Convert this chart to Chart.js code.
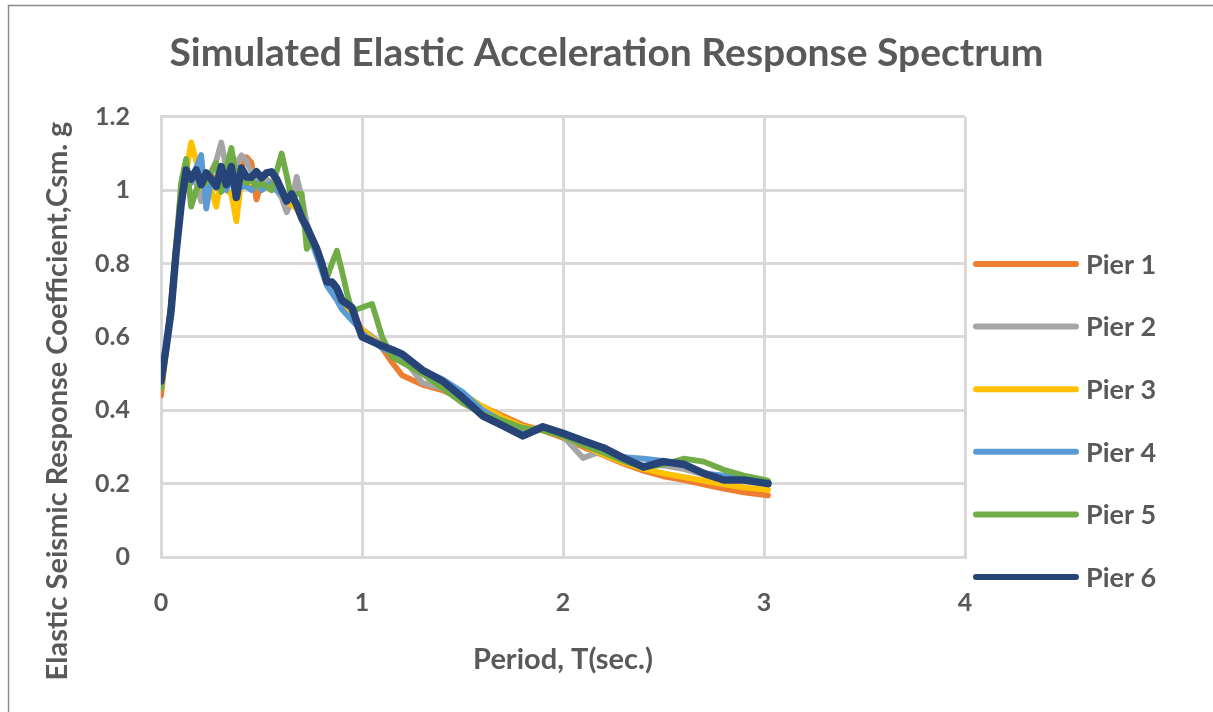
<!DOCTYPE html>
<html><head><meta charset="utf-8">
<script src="https://cdn.jsdelivr.net/npm/chart.js@4"></script>
<style>html,body{margin:0;padding:0;background:#fff;}canvas{display:block}</style>
</head><body>
<canvas id="c" width="1213" height="712"></canvas>
<script>
const periods = [0,0.025,0.05,0.075,0.1,0.125,0.15,0.175,0.2,
0.225,0.25,0.275,0.3,0.325,0.35,0.375,0.4,
0.425,0.45,0.475,0.5,0.525,0.55,0.575,0.6,
0.625,0.65,0.675,0.7,0.725,0.75,0.775,0.8,
0.825,0.85,0.875,0.9,0.925,0.95,0.975,1.0,
1.05,1.1,1.15,1.2,
1.3,1.4,1.5,1.6,1.7,1.8,1.9,2.0,
2.1,2.2,2.3,2.4,2.5,2.6,2.7,2.8,2.9,3.02];

const pier1 = [0.44,0.56,0.68,0.84,0.99,1.03,1.02,1.04,1.03,
1.02,1.04,1.03,1.01,1.04,1.06,1.04,1.06,
1.09,1.075,0.975,1.02,1.01,1.02,1.0,0.99,
0.97,0.97,0.95,0.93,0.90,0.87,0.83,0.79,
0.75,0.73,0.71,0.69,0.67,0.655,0.64,0.62,
0.60,0.57,0.53,0.495,
0.47,0.455,0.43,0.41,0.385,0.36,0.345,0.325,
0.30,0.278,0.255,0.235,0.22,0.21,0.198,0.186,0.176,0.168];

const pier2 = [0.47,0.57,0.68,0.84,0.99,1.05,1.04,1.02,0.97,
1.02,1.05,1.08,1.13,1.06,1.10,1.07,1.095,
1.08,1.05,1.03,1.02,1.03,1.02,1.0,0.98,
0.94,0.97,1.036,0.98,0.91,0.87,0.84,0.80,
0.76,0.74,0.72,0.70,0.68,0.66,0.64,0.62,
0.60,0.58,0.56,0.545,
0.475,0.46,0.44,0.40,0.37,0.33,0.35,0.33,
0.27,0.29,0.265,0.25,0.25,0.24,0.225,0.215,0.21,0.20];

const pier3 = [0.46,0.57,0.69,0.85,1.0,1.05,1.13,1.08,1.02,
0.98,1.0,0.955,1.03,1.0,0.99,0.915,1.03,
1.02,1.01,1.02,1.0,1.01,1.0,1.01,0.99,
0.97,0.96,0.95,0.92,0.89,0.865,0.83,0.79,
0.75,0.73,0.71,0.69,0.67,0.655,0.64,0.62,
0.595,0.575,0.555,0.54,
0.505,0.475,0.445,0.41,0.38,0.355,0.345,0.33,
0.305,0.28,0.258,0.24,0.228,0.218,0.208,0.198,0.19,0.183];

const pier4 = [0.47,0.57,0.68,0.83,0.97,1.04,1.02,1.06,1.096,
0.95,1.03,1.01,1.02,1.0,1.03,1.02,1.01,
1.01,1.0,1.02,1.0,1.01,1.02,1.0,0.99,
0.97,0.98,0.96,0.92,0.89,0.86,0.82,0.78,
0.74,0.72,0.70,0.675,0.66,0.645,0.63,0.61,
0.59,0.57,0.555,0.54,
0.51,0.485,0.45,0.40,0.37,0.345,0.35,0.335,
0.31,0.29,0.272,0.268,0.262,0.25,0.228,0.222,0.215,0.205];

const pier5 = [0.46,0.57,0.69,0.84,1.02,1.085,0.955,1.0,1.03,
1.02,1.047,1.074,0.995,1.06,1.115,1.03,1.04,
1.02,1.03,1.01,1.02,1.01,1.0,1.05,1.10,
1.04,0.975,0.99,0.99,0.84,0.86,0.84,0.80,
0.76,0.80,0.835,0.78,0.72,0.67,0.675,0.68,
0.69,0.60,0.545,0.53,
0.50,0.46,0.42,0.39,0.372,0.352,0.345,0.33,
0.305,0.285,0.262,0.245,0.252,0.268,0.26,0.238,0.222,0.208];

const pier6 = [0.48,0.57,0.67,0.83,0.96,1.055,1.03,1.055,1.015,
1.047,1.03,1.01,1.064,1.015,1.064,0.98,1.06,
1.036,1.035,1.05,1.034,1.047,1.05,1.03,1.0,
0.97,0.99,0.96,0.925,0.90,0.87,0.84,0.80,
0.75,0.75,0.733,0.70,0.69,0.68,0.64,0.60,
0.588,0.575,0.565,0.553,
0.51,0.48,0.435,0.385,0.358,0.33,0.355,0.337,
0.317,0.298,0.27,0.245,0.26,0.253,0.228,0.21,0.21,0.20];

const seriesNames = ['Pier 1','Pier 2','Pier 3','Pier 4','Pier 5','Pier 6'];
const seriesValues = [pier1,pier2,pier3,pier4,pier5,pier6];
const seriesColors = ['#ED7D31','#A5A5A5','#FFC000','#5B9BD5','#70AD47','#264478'];
const xTickValues = [0,1,2,3,4];
const yTickValues = [0,0.2,0.4,0.6,0.8,1,1.2];

const chartTitle = 'Simulated Elastic Acceleration Response Spectrum';
const xTitle = 'Period, T(sec.)';
const yTitle = 'Elastic Seismic Response Coefficient,Csm. g';

const TEXT = '#595959';
const GRID = '#d9d9d9';
const FONT = 'Lato';

const datasets = seriesValues.map((vals, i) => ({
  label: seriesNames[i],
  data: vals.map((v, j) => ({x: periods[j], y: v})),
  borderColor: seriesColors[i],
  backgroundColor: seriesColors[i],
  borderWidth: i === 5 ? 7.5 : 5.8,
  pointRadius: 0,
  tension: 0,
  borderJoinStyle: 'round',
  borderCapStyle: 'round',
  order: 6 - i
}));

const decor = {
  id: 'decor',
  beforeDraw(chart) {
    const ctx = chart.ctx;
    ctx.save();
    ctx.fillStyle = '#fff';
    ctx.fillRect(0, 0, chart.width, chart.height);
    ctx.strokeStyle = '#8a8a8a';
    ctx.lineWidth = 1.5;
    ctx.beginPath();
    ctx.moveTo(8.5, chart.height + 2);
    ctx.lineTo(8.5, 5.5);
    ctx.lineTo(chart.width + 2, 5.5);
    ctx.stroke();
    ctx.restore();
  },
  afterDraw(chart) {
    const ctx = chart.ctx;
    ctx.save();
    // y axis title
    ctx.translate(58, 401);
    ctx.rotate(-Math.PI / 2);
    ctx.fillStyle = TEXT;
    ctx.font = 'bold 29px ' + FONT;
    ctx.textAlign = 'center';
    ctx.textBaseline = 'middle';
    ctx.fillText(yTitle, 0, 0);
    ctx.restore();
    // legend
    ctx.save();
    chart.data.datasets.forEach((ds, i) => {
      const y = 264 + i * 62.6;
      ctx.strokeStyle = ds.borderColor;
      ctx.lineWidth = 6;
      ctx.lineCap = 'round';
      ctx.beginPath();
      ctx.moveTo(976, y);
      ctx.lineTo(1076, y);
      ctx.stroke();
      ctx.fillStyle = TEXT;
      ctx.font = 'bold 27px ' + FONT;
      ctx.textAlign = 'left';
      ctx.textBaseline = 'middle';
      ctx.fillText(ds.label, 1086, y + 1);
    });
    ctx.restore();
  }
};

new Chart(document.getElementById('c'), {
  type: 'line',
  data: { datasets },
  options: {
    responsive: false,
    animation: false,
    devicePixelRatio: 1,
    layout: { padding: 0 },
    plugins: {
      legend: { display: false },
      tooltip: { enabled: false },
      title: {
        display: true,
        text: chartTitle,
        color: TEXT,
        font: { family: FONT, size: 39, weight: 'bold' },
        padding: { top: 30, bottom: 40 }
      }
    },
    scales: {
      x: {
        type: 'linear',
        min: 0, max: 4,
        afterFit(scale) { scale.height = 155; },
        afterBuildTicks(scale) { scale.ticks = xTickValues.map(v => ({value: v})); },
        grid: { color: GRID, lineWidth: 3, drawTicks: false },
        border: { color: GRID, width: 3 },
        ticks: { color: TEXT, font: { family: FONT, size: 25, weight: 'bold' }, padding: 31 },
        title: { display: true, text: xTitle, color: TEXT, font: { family: FONT, size: 29, weight: 'bold' }, padding: { top: 0, bottom: 35 } }
      },
      y: {
        min: 0, max: 1.2,
        afterFit(scale) { scale.width = 161; },
        afterBuildTicks(scale) { scale.ticks = yTickValues.map(v => ({value: v})); },
        grid: { color: GRID, lineWidth: 3, drawTicks: false },
        border: { color: GRID, width: 3 },
        ticks: {
          color: TEXT, font: { family: FONT, size: 25, weight: 'bold' }, padding: 31,
          callback: v => String(Math.round(v * 10) / 10)
        }
      },
      legendSpace: {
        type: 'linear',
        position: 'right',
        display: true,
        afterFit(scale) { scale.width = 248; },
        grid: { display: false, drawTicks: false },
        border: { display: false },
        ticks: { display: false }
      }
    }
  },
  plugins: [decor]
});
</script>
</body></html>
